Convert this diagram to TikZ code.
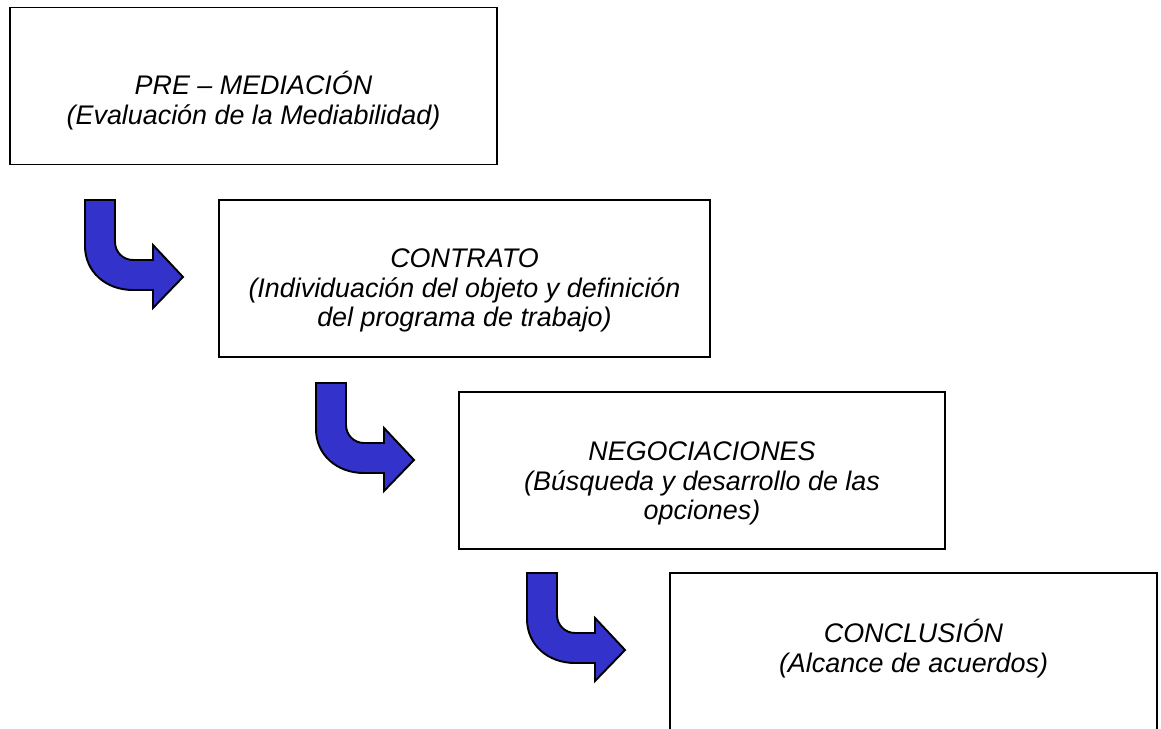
\documentclass[tikz,border=0pt]{standalone}
\usepackage{fontspec}
\setmainfont{Liberation Sans}
\usetikzlibrary{positioning}

\definecolor{arrowblue}{RGB}{51,51,204}

\tikzset{
  stage/.style={draw, line width=0.8pt, minimum width=9.74cm, minimum height=3.14cm, inner sep=0pt},
  stagetext/.style={align=center, inner sep=0pt, font=\fontsize{15.3pt}{17pt}\selectfont\itshape},
  arrowbody/.style={fill=arrowblue, draw=black, line width=1.1pt, line join=miter},
  pics/bentarrow/.style={code={
    \draw[arrowbody] (0,0) -- (30,0) -- (30,42) .. controls (30,52) and (38,60) .. (48,60)
      -- (68,60) -- (68,45) -- (98,77) -- (68,108) -- (68,90) -- (48,90)
      .. controls (21,90) and (0,72) .. (0,46) -- cycle;
  }}
}

\begin{document}
\begin{tikzpicture}[x=0.2mm, y=-0.2mm]
  \useasboundingbox (0,0) rectangle (1161,729);
  \clip (-2,-2) rectangle (1163,728);

  % the four stages
  \node[stage] (pre) at (253.5,86) {};
  \node[stage, minimum width=9.82cm] (contrato) at (464.5,278.5) {};
  \node[stage, minimum width=9.72cm] (nego) at (702,470.5) {};
  \node[stage] (conclusion) at (913.5,651.5) {};

  \node[stagetext] (pretext) at ([yshift=-0.3cm]pre.center) {PRE – MEDIACIÓN\\(Evaluación de la Mediabilidad)};
  \node[stagetext] (contratotext) at ([yshift=-0.24cm]contrato.center) {CONTRATO\\(Individuación del objeto y definición\\del programa de trabajo)};
  \node[stagetext] (negotext) at ([yshift=-0.26cm]nego.center) {NEGOCIACIONES\\(Búsqueda y desarrollo de las\\opciones)};
  \node[stagetext] (conclusiontext) at ([yshift=0.06cm]conclusion.center) {CONCLUSIÓN\\(Alcance de acuerdos)};

  % bent arrows between the stages
  \pic at (85,200) {bentarrow};
  \pic at (316,383) {bentarrow};
  \pic at (527,573) {bentarrow};
\end{tikzpicture}
\end{document}
